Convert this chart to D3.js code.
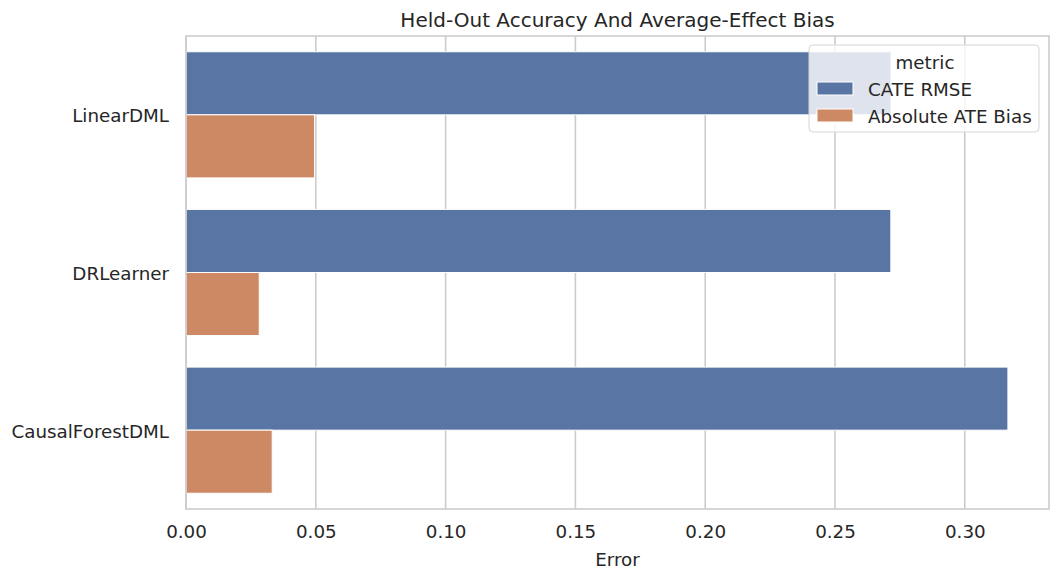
<!DOCTYPE html>
<html lang="en">
    <head>
        <meta charset="utf-8">
        <title>Held-Out Accuracy</title>
        <script type="text/javascript" src="https://d3js.org/d3.v7.min.js"></script>
        <style type="text/css">
            body{ margin: 0; background: #fff; }
            text{ font-family: "DejaVu Sans", sans-serif; fill: #262626; }
            .grid line{ stroke: #cccccc; stroke-width: 1.6px; }
            .bars rect{ stroke: #fff; stroke-width: 1px; }
        </style>
    </head>
    <body>
        <svg id="chart" width="1060" height="580"></svg>
        <script type="text/javascript">
        //data
        const models = ["LinearDML", "DRLearner", "CausalForestDML"];
        const metrics = ["CATE RMSE", "Absolute ATE Bias"];
        const cateRmse = [0.2716, 0.2715, 0.3166];
        const ateBias = [0.0495, 0.0282, 0.0332];
        const xTicks = [0, 0.05, 0.10, 0.15, 0.20, 0.25, 0.30];
        const colors = ["#5975a4", "#cc8963"];

        const w = 1060, h = 580;
        const margin = {top: 36, right: 11, bottom: 71, left: 186};
        const iw = w - margin.left - margin.right;
        const ih = h - margin.top - margin.bottom;
        const fs = 18.3;
        const svg = d3.select("#chart");
        const g = svg.append("g").attr("transform", `translate(${margin.left},${margin.top})`);

        const rows = [];
        models.forEach((m, i) => {
            rows.push({model: m, metric: metrics[0], value: cateRmse[i]});
            rows.push({model: m, metric: metrics[1], value: ateBias[i]});
        });

        const x = d3.scaleLinear().domain([0, d3.max(cateRmse) * 1.05]).range([0, iw]);
        const y = d3.scaleBand().domain(models).range([0, ih]).paddingInner(0.2).paddingOuter(0.1);
        const ySub = d3.scaleBand().domain(metrics).range([0, y.bandwidth()]);
        const color = d3.scaleOrdinal().domain(metrics).range(colors);

        //vertical gridlines
        g.append("g").attr("class", "grid")
            .selectAll("line").data(xTicks).join("line")
            .attr("x1", d => x(d)).attr("x2", d => x(d))
            .attr("y1", 0).attr("y2", ih);

        //bars
        g.append("g").attr("class", "bars")
            .selectAll("rect").data(rows).join("rect")
            .attr("x", x(0))
            .attr("y", d => y(d.model) + ySub(d.metric))
            .attr("width", d => x(d.value) - x(0))
            .attr("height", ySub.bandwidth())
            .attr("fill", d => color(d.metric));

        //frame
        g.append("rect").attr("width", iw).attr("height", ih)
            .attr("fill", "none").attr("stroke", "#cccccc").attr("stroke-width", 1.6);

        //x axis
        const xAxis = g.append("g").attr("transform", `translate(0,${ih})`)
            .call(d3.axisBottom(x).tickValues(xTicks).tickFormat(d3.format(".2f")).tickSize(0).tickPadding(16));
        xAxis.select(".domain").remove();
        xAxis.selectAll("text").attr("font-size", fs).style("font-family", "DejaVu Sans").attr("fill", "#262626");

        //y axis
        const yAxis = g.append("g")
            .call(d3.axisLeft(y).tickSize(0).tickPadding(17));
        yAxis.select(".domain").remove();
        yAxis.selectAll("text").attr("font-size", fs).attr("dy", "0.41em")
            .style("font-family", "DejaVu Sans").attr("fill", "#262626");

        //labels
        svg.append("text").attr("x", margin.left + iw / 2).attr("y", 20)
            .attr("text-anchor", "middle").attr("dominant-baseline", "central")
            .attr("font-size", 20).text("Held-Out Accuracy And Average-Effect Bias");
        svg.append("text").attr("x", margin.left + iw / 2).attr("y", 559)
            .attr("text-anchor", "middle").attr("dominant-baseline", "central")
            .attr("font-size", fs).text("Error");

        //legend
        const leg = svg.append("g").attr("transform", "translate(809,45)");
        leg.append("rect").attr("width", 230).attr("height", 87).attr("rx", 4)
            .attr("fill", "#fff").attr("fill-opacity", 0.8)
            .attr("stroke", "#d6d6d6").attr("stroke-width", 1);
        leg.append("text").attr("x", 116).attr("y", 17)
            .attr("text-anchor", "middle").attr("dominant-baseline", "central")
            .attr("font-size", fs).text("metric");
        const items = leg.selectAll(".item").data(metrics).join("g")
            .attr("transform", (d, i) => `translate(8,${44 + i * 27})`);
        items.append("rect").attr("x", 0).attr("y", -7).attr("width", 36).attr("height", 13)
            .attr("fill", d => color(d)).attr("stroke", "#fff");
        items.append("text").attr("x", 51).attr("y", 0)
            .attr("dominant-baseline", "central").attr("font-size", fs).text(d => d);
        </script>
    </body>
</html>
